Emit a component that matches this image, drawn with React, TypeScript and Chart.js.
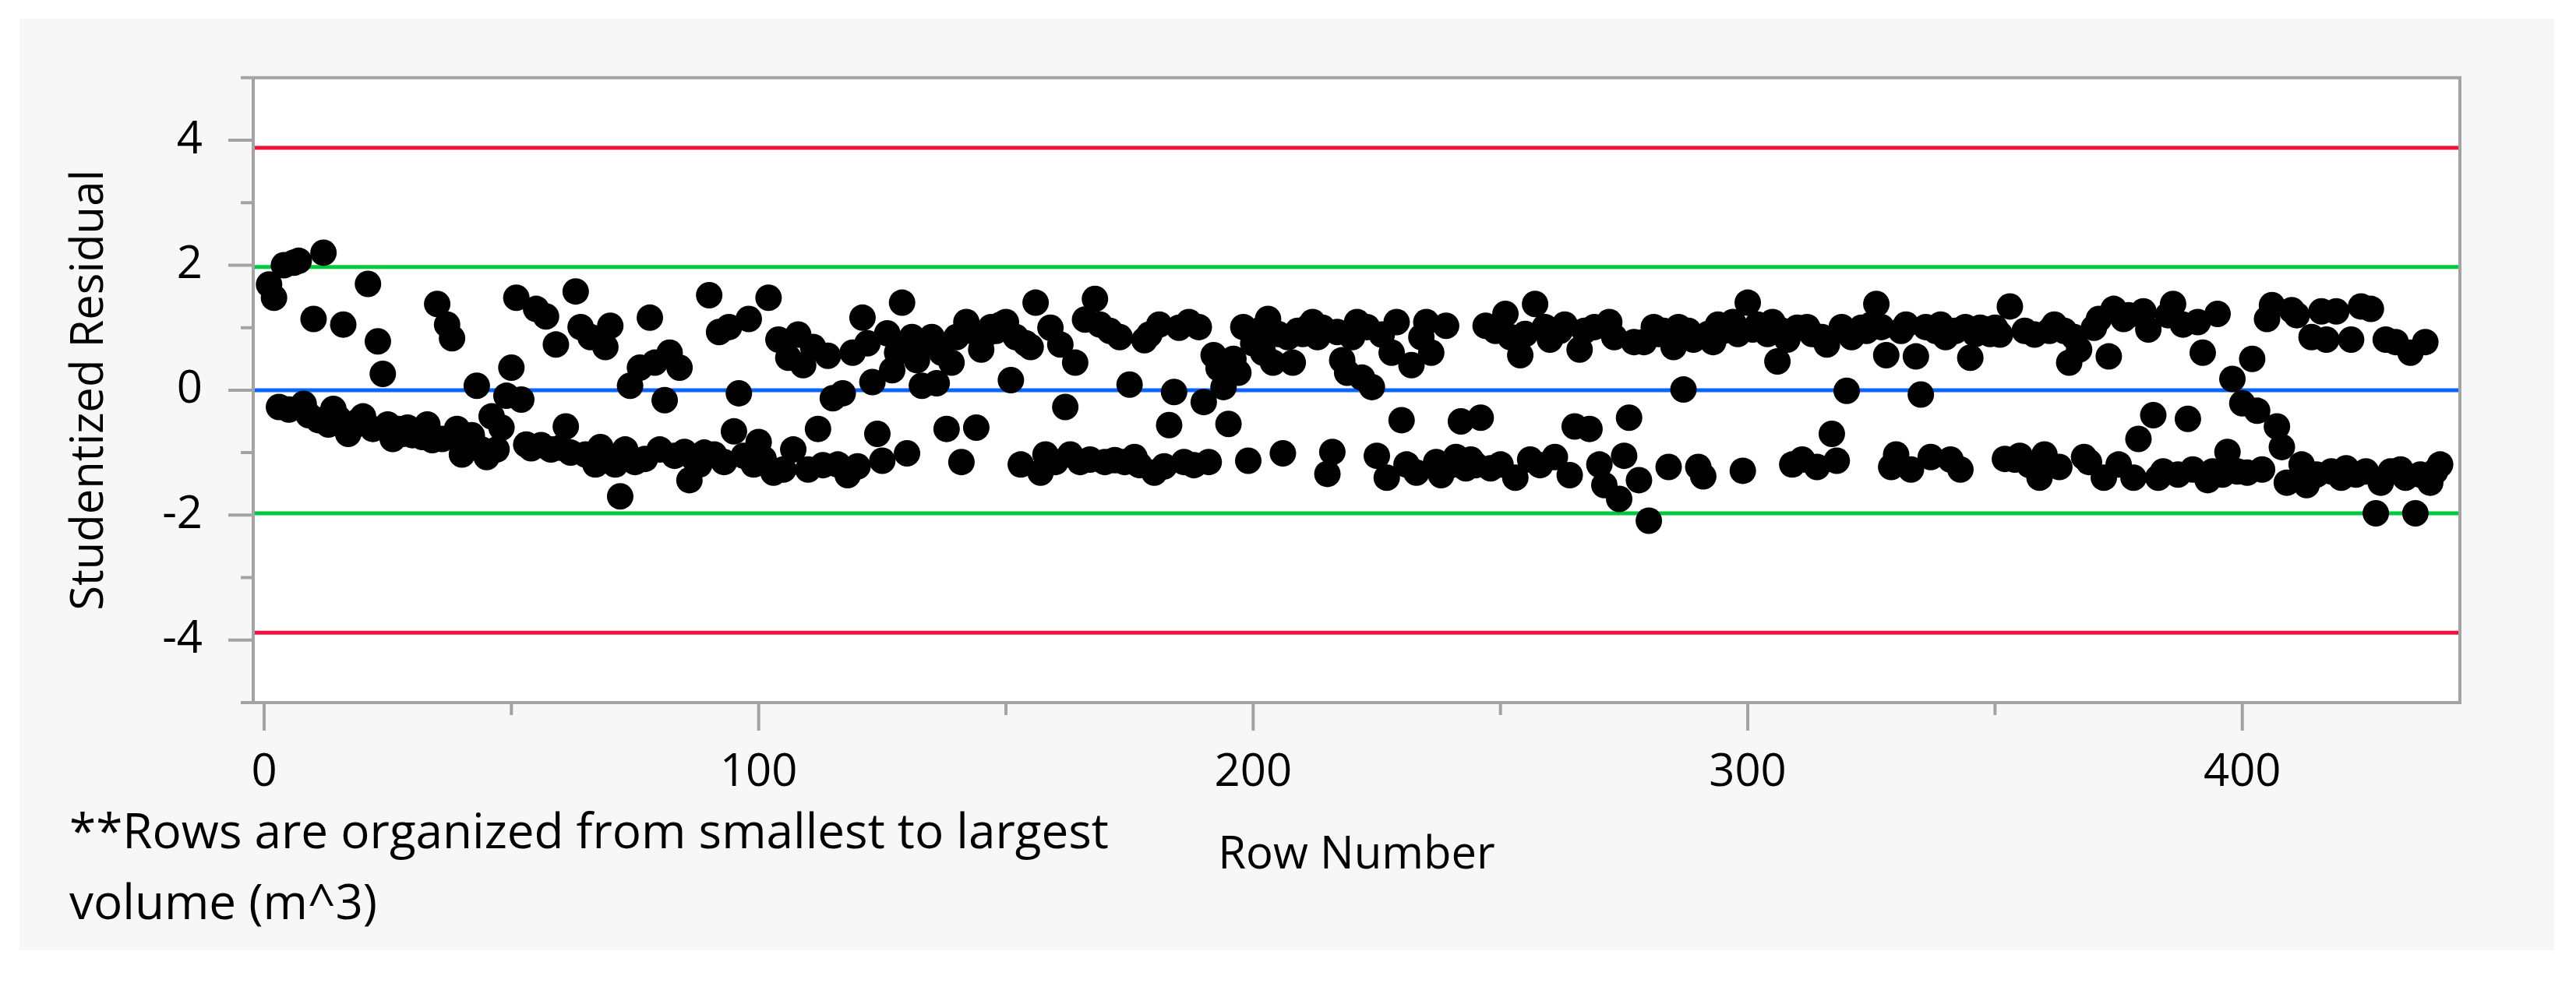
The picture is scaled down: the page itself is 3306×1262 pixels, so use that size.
import { useEffect, useRef } from 'react';
import { Chart, registerables } from 'chart.js';
Chart.register(...registerables);

// studentized residual per row (row 1 .. 440)
const RESIDUALS = [
  1.69, 1.48, -0.27, 2.0, -0.31, 2.04, 2.07, -0.22, -0.4, 1.14, // 1-10
  -0.48, 2.2, -0.55, -0.3, -0.45, 1.05, -0.7, -0.58, -0.5, -0.42, // 11-20
  1.7, -0.62, 0.78, 0.26, -0.55, -0.78, -0.62, -0.7, -0.6, -0.72, // 21-30
  -0.65, -0.75, -0.55, -0.8, 1.38, -0.78, 1.05, 0.83, -0.62, -1.03, // 31-40
  -0.85, -0.72, 0.07, -0.95, -1.07, -0.42, -0.95, -0.6, -0.09, 0.36, // 41-50
  1.48, -0.15, -0.87, -0.93, 1.3, -0.88, 1.18, -0.95, 0.73, -0.92, // 51-60
  -0.58, -1.0, 1.58, 1.01, -1.03, 0.85, -1.19, -0.91, 0.69, 1.03, // 61-70
  -1.19, -1.7, -0.95, 0.07, -1.15, 0.36, -1.1, 1.16, 0.44, -0.95, // 71-80
  -0.16, 0.6, -1.05, 0.36, -0.99, -1.44, -1.1, -1.19, -1.0, 1.52, // 81-90
  -1.03, 0.93, -1.15, 1.01, -0.66, -0.05, -1.05, 1.14, -1.19, -0.83, // 91-100
  -1.1, 1.48, -1.32, 0.81, -1.27, 0.52, -0.95, 0.89, 0.4, -1.27, // 101-110
  0.69, -0.62, -1.2, 0.55, -0.13, -1.19, -0.05, -1.36, 0.6, -1.22, // 111-120
  1.16, 0.75, 0.13, -0.7, -1.13, 0.91, 0.32, 0.6, 1.4, -1.01, // 121-130
  0.85, 0.48, 0.07, 0.75, 0.85, 0.11, 0.6, -0.62, 0.44, 0.85, // 131-140
  -1.15, 1.09, 0.95, -0.6, 0.65, 0.9, 1.01, 0.95, 1.05, 1.09, // 141-150
  0.16, 0.85, -1.19, 0.75, 0.69, 1.4, -1.32, -1.03, 1.0, -1.15, // 151-160
  0.73, -0.27, -1.03, 0.44, -1.15, 1.13, -1.11, 1.46, 1.05, -1.15, // 161-170
  0.95, -1.12, 0.85, -1.15, 0.09, -1.07, -1.2, 0.8, 0.89, -1.32, // 171-180
  1.05, -1.22, -0.56, -0.03, 1.0, -1.15, 1.09, -1.2, 1.01, -0.19, // 181-190
  -1.15, 0.56, 0.35, 0.05, -0.54, 0.5, 0.28, 1.01, -1.13, 0.75, // 191-200
  0.95, 0.6, 1.14, 0.44, 0.9, -1.01, 0.85, 0.44, 0.95, 0.9, // 201-210
  1.0, 1.09, 0.85, 1.0, -1.34, -0.99, 0.93, 0.48, 0.28, 0.85, // 211-220
  1.09, 0.2, 1.01, 0.05, -1.05, 0.89, -1.4, 0.6, 1.09, -0.48, // 221-230
  -1.19, 0.4, -1.32, 0.85, 1.09, 0.6, -1.15, -1.36, 1.03, -1.2, // 231-240
  -1.07, -0.5, -1.25, -1.11, -1.2, -0.44, 1.03, -1.25, 0.95, -1.19, // 241-250
  1.22, 0.85, -1.4, 0.56, 0.9, -1.11, 1.38, -1.2, 1.01, 0.81, // 251-260
  -1.07, 0.95, 1.05, -1.36, -0.58, 0.65, 0.95, -0.62, 1.01, -1.19, // 261-270
  -1.52, 1.09, 0.85, -1.74, -1.05, -0.44, 0.77, -1.44, 0.77, -2.09, // 271-280
  1.01, 0.9, 0.95, -1.23, 0.69, 1.01, 0.01, 0.95, 0.81, -1.23, // 281-290
  -1.38, 0.9, 0.77, 1.05, 0.95, 1.0, 1.09, 0.9, -1.29, 1.4, // 291-300
  0.97, 1.05, 1.0, 0.9, 1.09, 0.46, 0.95, 0.81, -1.19, 1.0, // 301-310
  -1.11, 1.01, 0.9, -1.23, 0.85, 0.73, -0.7, -1.13, 1.01, -0.01, // 311-320
  0.85, 0.93, 1.0, 0.95, 1.05, 1.38, 1.01, 0.56, -1.23, -1.03, // 321-330
  0.95, 1.05, -1.27, 0.54, -0.07, 1.01, -1.07, 0.95, 1.05, 0.85, // 331-340
  -1.11, 0.95, -1.27, 1.01, 0.52, 0.9, 1.0, 0.97, 0.9, 1.0, // 341-350
  0.89, -1.1, 1.34, -1.11, -1.05, 0.95, -1.2, 0.89, -1.4, -1.03, // 351-360
  0.95, 1.05, -1.23, 0.95, 0.44, 0.85, 0.65, -1.07, -1.15, 1.0, // 361-370
  1.14, -1.4, 0.54, 1.3, -1.19, 1.14, 1.2, -1.4, -0.78, 1.26, // 371-380
  0.97, -0.4, -1.4, -1.3, 1.2, 1.38, -1.35, 1.05, -0.46, -1.27, // 381-390
  1.09, 0.6, -1.44, -1.3, 1.22, -1.35, -0.99, 0.18, -1.3, -0.21, // 391-400
  -1.32, 0.5, -0.33, -1.27, 1.14, 1.36, -0.58, -0.91, -1.48, 1.28, // 401-410
  1.2, -1.19, -1.52, 0.85, -1.35, 1.26, 0.81, -1.3, 1.26, -1.4, // 411-420
  -1.25, 0.81, -1.35, 1.34, -1.3, 1.3, -1.97, -1.48, 0.81, -1.3, // 421-430
  0.77, -1.27, -1.4, 0.6, -1.97, -1.35, 0.77, -1.48, -1.3, -1.19, // 431-440
];
const ROW_NUMBERS = RESIDUALS.map((_, i) => i + 1);

const X_TICKS = [0, 50, 100, 150, 200, 250, 300, 350, 400];
const Y_TICKS = [-5, -4, -3, -2, -1, 0, 1, 2, 3, 4, 5];
// reference limits: red = outlier bound, green = +-2 band, blue = zero
const LIMIT_VALUES = [3.88, 1.97, 0, -1.97, -3.88];
const LIMIT_COLORS = ['#f0143c', '#00c83c', '#0a64ff', '#00c83c', '#f0143c'];

const X_MIN = -2.2;
const X_MAX = 444;
const W = 3306;
const H = 1262;
const FONT = { family: "'Open Sans', sans-serif", size: 58 };
const AXIS_GREY = '#a3a3a3';

const framePlugin = {
  id: 'frame',
  beforeDraw(chart: any) {
    const { ctx, chartArea: a } = chart;
    ctx.save();
    ctx.fillStyle = '#fff';
    ctx.fillRect(a.left, a.top, a.right - a.left, a.bottom - a.top);
    ctx.restore();
  },
  afterDraw(chart: any) {
    const { ctx, chartArea: a, scales } = chart;
    ctx.save();
    ctx.strokeStyle = AXIS_GREY;
    ctx.lineWidth = 4;
    ctx.strokeRect(a.left, a.top, a.right - a.left, a.bottom - a.top);
    ctx.beginPath();
    Y_TICKS.forEach(v => {
      const y = scales.y.getPixelForValue(v);
      const len = v % 2 === 0 ? 32 : 16;
      ctx.moveTo(a.left - len, y);
      ctx.lineTo(a.left, y);
    });
    X_TICKS.forEach(v => {
      const x = scales.x.getPixelForValue(v);
      const len = v % 100 === 0 ? 36 : 16;
      ctx.moveTo(x, a.bottom);
      ctx.lineTo(x, a.bottom + len);
    });
    ctx.stroke();
    ctx.restore();
  },
};

export default function App() {
  const chartRef = useRef<HTMLCanvasElement>(null);
  const chartInstance = useRef<Chart | null>(null);

  useEffect(() => {
    if (!chartRef.current) return;
    if (chartInstance.current) chartInstance.current.destroy();

    chartInstance.current = new Chart(chartRef.current, {
      type: 'scatter',
      data: {
        datasets: [
          {
            data: ROW_NUMBERS.map((x, i) => ({ x, y: RESIDUALS[i] })),
            backgroundColor: '#000',
            borderWidth: 0,
            pointRadius: 17,
            pointHoverRadius: 17,
            order: 0,
          },
          ...LIMIT_VALUES.map((v, i) => ({
            type: 'line' as const,
            data: [{ x: X_MIN, y: v }, { x: X_MAX, y: v }],
            borderColor: LIMIT_COLORS[i],
            borderWidth: 5,
            pointRadius: 0,
            showLine: true,
            order: 1,
          })),
        ],
      },
      options: {
        responsive: false,
        animation: false,
        devicePixelRatio: 1,
        layout: { padding: { top: 84, right: W - 3157, left: 0, bottom: 0 } },
        plugins: { legend: { display: false }, tooltip: { enabled: false } },
        scales: {
          x: {
            type: 'linear',
            min: X_MIN,
            max: X_MAX,
            afterBuildTicks: (s: any) => { s.ticks = X_TICKS.map(value => ({ value })); },
            afterFit: (s: any) => { s.height = H - 902; },
            grid: { display: false, drawTicks: false },
            border: { display: false },
            ticks: {
              autoSkip: false,
              maxRotation: 0,
              padding: 56,
              color: '#000',
              font: FONT,
              callback: (v: any) => (v % 100 === 0 ? String(v) : ''),
            },
            title: {
              display: true,
              text: 'Row Number',
              color: '#000',
              font: FONT,
              padding: { top: 0, bottom: 129 },
            },
          },
          y: {
            type: 'linear',
            min: -5,
            max: 5,
            afterBuildTicks: (s: any) => { s.ticks = Y_TICKS.map(value => ({ value })); },
            afterFit: (s: any) => { s.width = 325; },
            grid: { display: false, drawTicks: false },
            border: { display: false },
            ticks: {
              autoSkip: false,
              padding: 65,
              color: '#000',
              font: FONT,
              callback: (v: any) => (v % 2 === 0 && Math.abs(v) < 5 ? String(v) : ''),
            },
            title: {
              display: true,
              text: 'Studentized Residual',
              color: '#000',
              font: FONT,
              padding: { top: 81, bottom: 0 },
            },
          },
        },
      },
      plugins: [framePlugin],
    });
    return () => { chartInstance.current?.destroy(); };
  }, []);

  return (
    <div style={{ position: 'absolute', left: 0, top: 0, width: W, height: H, background: '#fff', overflow: 'hidden' }}>
      <div style={{ position: 'absolute', left: 25, top: 24, width: 3253, height: 1196, background: '#f7f7f7' }} />
      <canvas ref={chartRef} width={W} height={H} style={{ position: 'absolute', left: 0, top: 0, width: W, height: H }} />
      <div
        style={{
          position: 'absolute', left: 89, top: 1020,
          fontFamily: "'Open Sans', sans-serif", fontSize: 62, lineHeight: '91px', color: '#000',
          whiteSpace: 'nowrap',
        }}
      >
        **Rows are organized from smallest to largest<br />
        volume (m^3)
      </div>
    </div>
  );
}
